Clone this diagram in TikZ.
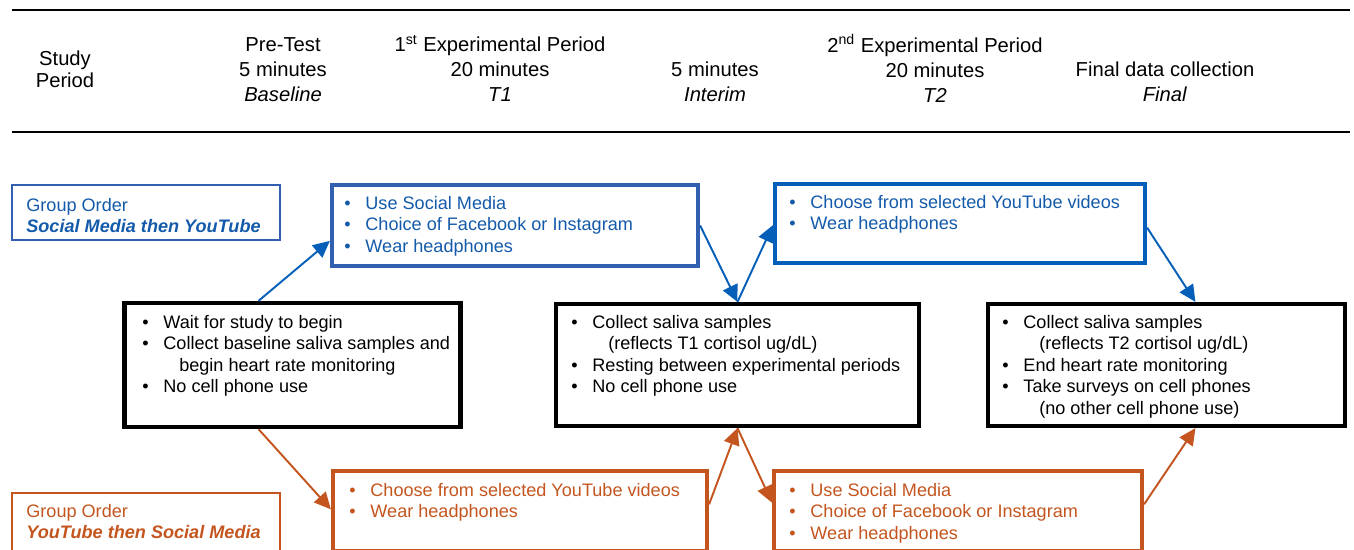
\documentclass[tikz,border=0pt]{standalone}
\usepackage{fontspec}
\setmainfont{Liberation Sans}
\usetikzlibrary{arrows.meta,calc}

\definecolor{smblue}{RGB}{20,90,170}
\definecolor{smframe}{RGB}{50,95,175}
\definecolor{ytframe}{RGB}{5,95,185}
\definecolor{ytorange}{RGB}{196,85,30}

\newcommand{\bitem}{\strut\makebox[12pt][l]{\textbullet}}
\newcommand{\bcont}{\strut\hspace*{21pt}}

\tikzset{
  stage/.style={draw,line width=2.4pt,inner sep=0pt},
  grp/.style={draw,line width=0.9pt,inner sep=0pt},
  dims/.style args={#1x#2}{minimum width=#1*0.02cm,minimum height=#2*0.02cm},
  txt/.style={anchor=north west,inner sep=0pt,align=left,font=\fontsize{10.3}{12.2}\selectfont},
  hdr/.style={anchor=north,inner sep=0pt,align=center,font=\fontsize{11.5}{14.2}\selectfont},
  link/.style={line width=1.1pt,-{Triangle[length=9.5pt,width=9pt]}},
  rule/.style={line width=1.1pt}
}

\begin{document}
\begin{tikzpicture}[x=0.02cm,y=-0.02cm]
\useasboundingbox (0,0) rectangle (1354,550);
\clip (0,0) rectangle (1354,550);

% header
\coordinate (r1a) at (12,10);
\coordinate (r1b) at (1350,10);
\coordinate (r2a) at (12,132);
\coordinate (r2b) at (1350,132);
\draw[rule] (r1a) -- (r1b);
\draw[rule] (r2a) -- (r2b);

\node[hdr] (study) at (65,47.5) {\strut Study\\[-1.7pt]Period};
\node[hdr] (pre) at (283,34) {\strut Pre-Test\\5 minutes\\\textit{Baseline}};
\node[hdr] (exp1) at (500,34) {\strut 1\textsuperscript{st} Experimental Period\\20 minutes\\\textit{T1}};
\node[hdr] (interim) at (715,59) {\strut 5 minutes\\\textit{Interim}};
\node[hdr] (exp2) at (935,34) {\strut 2\textsuperscript{nd} Experimental Period\\20 minutes\\\textit{T2}};
\node[hdr] (final) at (1165,59) {\strut Final data collection\\\textit{Final}};

% group labels
\node[grp,draw=smframe,dims=268x55] (gsm) at (146,212.5) {};
\node[txt,text=smblue] (gsmt) at (26,196) {\strut Group Order\\\textbf{\textit{Social Media then YouTube}}};
\node[grp,draw=ytorange,dims=268x59] (gyt) at (146,522.5) {};
\node[txt,text=ytorange] (gytt) at (26,502) {\strut Group Order\\\textbf{\textit{YouTube then Social Media}}};

% black stages
\node[stage,dims=336x124] (base) at (292.5,365) {};
\node[txt] (baset) at (142,313) {\bitem Wait for study to begin\\
  \bitem Collect baseline saliva samples and\\
  \bcont begin heart rate monitoring\\
  \bitem No cell phone use};

\node[stage,dims=363x122] (mid) at (737.5,365) {};
\node[txt] (midt) at (571,313) {\bitem Collect saliva samples\\
  \bcont (reflects T1 cortisol ug/dL)\\
  \bitem Resting between experimental periods\\
  \bitem No cell phone use};

\node[stage,dims=357x122] (fin) at (1166.5,365) {};
\node[txt] (fint) at (1002,313) {\bitem Collect saliva samples\\
  \bcont (reflects T2 cortisol ug/dL)\\
  \bitem End heart rate monitoring\\
  \bitem Take surveys on cell phones\\
  \bcont (no other cell phone use)};

% blue periods
\node[stage,draw=smframe,dims=366x81] (sm1) at (515,225.5) {};
\node[txt,text=smblue] (sm1t) at (344,194) {\bitem Use Social Media\\
  \bitem Choice of Facebook or Instagram\\
  \bitem Wear headphones};

\node[stage,draw=ytframe,dims=370x79] (yt2) at (960,223.5) {};
\node[txt,text=smblue] (yt2t) at (789,193) {\bitem Choose from selected YouTube videos\\
  \bitem Wear headphones};

% orange periods
\node[stage,draw=ytorange,dims=374x80] (yt1) at (520,511) {};
\node[txt,text=ytorange] (yt1t) at (349,481) {\bitem Choose from selected YouTube videos\\
  \bitem Wear headphones};

\node[stage,draw=ytorange,dims=368x80] (sm2) at (958,511) {};
\node[txt,text=ytorange] (sm2t) at (789,481) {\bitem Use Social Media\\
  \bitem Choice of Facebook or Instagram\\
  \bitem Wear headphones};

% arrows
\draw[link,ytframe] ($(base.north west)!0.4!(base.north east)$) -- ($(sm1.north west)!0.68!(sm1.south west)$);
\draw[link,ytframe] ($(sm1.north east)!0.5!(sm1.south east)$) -- (mid.north);
\draw[link,ytframe] (mid.north) -- ($(yt2.north west)!0.52!(yt2.south west)$);
\draw[link,ytframe] ($(yt2.north east)!0.55!(yt2.south east)$) -- ($(fin.north west)!0.58!(fin.north east)$);

\draw[link,ytorange] ($(base.south west)!0.4!(base.south east)$) -- ($(yt1.north west)!0.48!(yt1.south west)$);
\draw[link,ytorange] ($(yt1.north east)!0.42!(yt1.south east)$) -- (mid.south);
\draw[link,ytorange] (mid.south) -- ($(sm2.north west)!0.4!(sm2.south west)$);
\draw[link,ytorange] ($(sm2.north east)!0.42!(sm2.south east)$) -- ($(fin.south west)!0.58!(fin.south east)$);

\end{tikzpicture}
\end{document}
